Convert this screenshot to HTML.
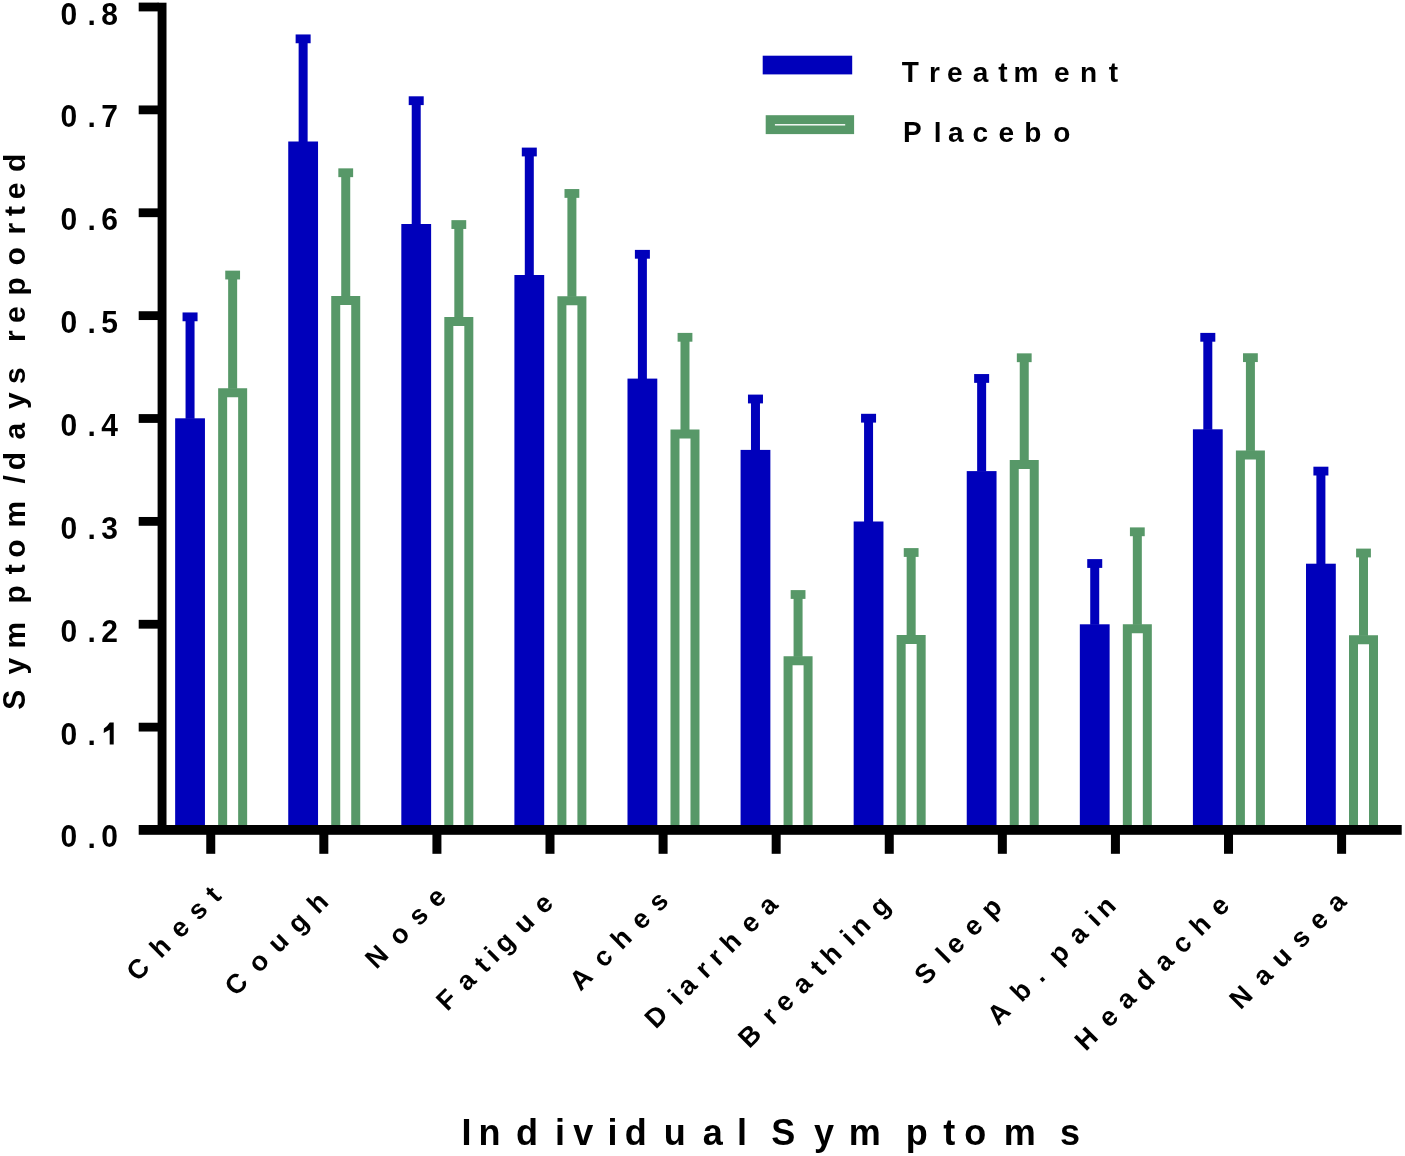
<!DOCTYPE html>
<html><head><meta charset="utf-8"><style>
html,body{margin:0;padding:0;background:#fff;}
body{width:1405px;height:1156px;overflow:hidden;position:relative;}
svg{position:absolute;left:0;top:0;will-change:transform;}
text{font-family:"Liberation Sans",sans-serif;font-weight:bold;fill:#000;}
</style></head><body>
<svg width="1405" height="1156" viewBox="0 0 1405 1156">
<rect x="175.15" y="418.30" width="29.8" height="406.70" fill="#0000BB"/>
<rect x="185.55" y="316.85" width="9" height="101.95" fill="#0000BB"/>
<rect x="182.55" y="312.45" width="15" height="8.8" fill="#0000BB"/>
<path d="M218.15 825V388.30H247.15V825h-9V397.30H227.15V825Z" fill="#579868"/>
<rect x="228.15" y="275.05" width="9" height="113.75" fill="#579868"/>
<rect x="225.25" y="270.65" width="14.8" height="8.8" fill="#579868"/>
<rect x="206.25" y="830" width="9" height="23.8" fill="#000"/>
<rect x="288.24" y="141.50" width="29.8" height="683.50" fill="#0000BB"/>
<rect x="298.63" y="38.85" width="9" height="103.15" fill="#0000BB"/>
<rect x="295.63" y="34.45" width="15" height="8.8" fill="#0000BB"/>
<path d="M331.23 825V295.90H360.23V825h-9V304.90H340.23V825Z" fill="#579868"/>
<rect x="341.23" y="172.75" width="9" height="123.65" fill="#579868"/>
<rect x="338.33" y="168.35" width="14.8" height="8.8" fill="#579868"/>
<rect x="319.33" y="830" width="9" height="23.8" fill="#000"/>
<rect x="401.32" y="224.00" width="29.8" height="601.00" fill="#0000BB"/>
<rect x="411.72" y="100.70" width="9" height="123.80" fill="#0000BB"/>
<rect x="408.72" y="96.30" width="15" height="8.8" fill="#0000BB"/>
<path d="M444.32 825V317.10H473.32V825h-9V326.10H453.32V825Z" fill="#579868"/>
<rect x="454.32" y="224.55" width="9" height="93.05" fill="#579868"/>
<rect x="451.42" y="220.15" width="14.8" height="8.8" fill="#579868"/>
<rect x="432.42" y="830" width="9" height="23.8" fill="#000"/>
<rect x="514.40" y="275.00" width="29.8" height="550.00" fill="#0000BB"/>
<rect x="524.80" y="152.00" width="9" height="123.50" fill="#0000BB"/>
<rect x="521.80" y="147.60" width="15" height="8.8" fill="#0000BB"/>
<path d="M557.40 825V296.30H586.40V825h-9V305.30H566.40V825Z" fill="#579868"/>
<rect x="567.40" y="193.45" width="9" height="103.35" fill="#579868"/>
<rect x="564.50" y="189.05" width="14.8" height="8.8" fill="#579868"/>
<rect x="545.50" y="830" width="9" height="23.8" fill="#000"/>
<rect x="627.49" y="378.60" width="29.8" height="446.40" fill="#0000BB"/>
<rect x="637.89" y="254.30" width="9" height="124.80" fill="#0000BB"/>
<rect x="634.89" y="249.90" width="15" height="8.8" fill="#0000BB"/>
<path d="M670.49 825V429.60H699.49V825h-9V438.60H679.49V825Z" fill="#579868"/>
<rect x="680.49" y="337.30" width="9" height="92.80" fill="#579868"/>
<rect x="677.59" y="332.90" width="14.8" height="8.8" fill="#579868"/>
<rect x="658.59" y="830" width="9" height="23.8" fill="#000"/>
<rect x="740.57" y="449.90" width="29.8" height="375.10" fill="#0000BB"/>
<rect x="750.97" y="399.00" width="9" height="51.40" fill="#0000BB"/>
<rect x="747.97" y="394.60" width="15" height="8.8" fill="#0000BB"/>
<path d="M783.57 825V656.30H812.57V825h-9V665.30H792.57V825Z" fill="#579868"/>
<rect x="793.57" y="594.50" width="9" height="62.30" fill="#579868"/>
<rect x="790.67" y="590.10" width="14.8" height="8.8" fill="#579868"/>
<rect x="771.67" y="830" width="9" height="23.8" fill="#000"/>
<rect x="853.66" y="521.50" width="29.8" height="303.50" fill="#0000BB"/>
<rect x="864.06" y="418.20" width="9" height="103.80" fill="#0000BB"/>
<rect x="861.06" y="413.80" width="15" height="8.8" fill="#0000BB"/>
<path d="M896.66 825V635.10H925.66V825h-9V644.10H905.66V825Z" fill="#579868"/>
<rect x="906.66" y="552.50" width="9" height="83.10" fill="#579868"/>
<rect x="903.76" y="548.10" width="14.8" height="8.8" fill="#579868"/>
<rect x="884.76" y="830" width="9" height="23.8" fill="#000"/>
<rect x="966.74" y="471.10" width="29.8" height="353.90" fill="#0000BB"/>
<rect x="977.14" y="378.45" width="9" height="93.15" fill="#0000BB"/>
<rect x="974.14" y="374.05" width="15" height="8.8" fill="#0000BB"/>
<path d="M1009.74 825V459.90H1038.74V825h-9V468.90H1018.74V825Z" fill="#579868"/>
<rect x="1019.74" y="357.75" width="9" height="102.65" fill="#579868"/>
<rect x="1016.84" y="353.35" width="14.8" height="8.8" fill="#579868"/>
<rect x="997.84" y="830" width="9" height="23.8" fill="#000"/>
<rect x="1079.83" y="624.30" width="29.8" height="200.70" fill="#0000BB"/>
<rect x="1090.23" y="563.50" width="9" height="61.30" fill="#0000BB"/>
<rect x="1087.23" y="559.10" width="15" height="8.8" fill="#0000BB"/>
<path d="M1122.83 825V624.30H1151.83V825h-9V633.30H1131.83V825Z" fill="#579868"/>
<rect x="1132.83" y="531.80" width="9" height="93.00" fill="#579868"/>
<rect x="1129.93" y="527.40" width="14.8" height="8.8" fill="#579868"/>
<rect x="1110.93" y="830" width="9" height="23.8" fill="#000"/>
<rect x="1192.91" y="429.30" width="29.8" height="395.70" fill="#0000BB"/>
<rect x="1203.31" y="337.30" width="9" height="92.50" fill="#0000BB"/>
<rect x="1200.31" y="332.90" width="15" height="8.8" fill="#0000BB"/>
<path d="M1235.91 825V450.40H1264.91V825h-9V459.40H1244.91V825Z" fill="#579868"/>
<rect x="1245.91" y="357.65" width="9" height="93.25" fill="#579868"/>
<rect x="1243.01" y="353.25" width="14.8" height="8.8" fill="#579868"/>
<rect x="1224.01" y="830" width="9" height="23.8" fill="#000"/>
<rect x="1306.00" y="563.70" width="29.8" height="261.30" fill="#0000BB"/>
<rect x="1316.40" y="471.10" width="9" height="93.10" fill="#0000BB"/>
<rect x="1313.40" y="466.70" width="15" height="8.8" fill="#0000BB"/>
<path d="M1349.00 825V635.30H1378.00V825h-9V644.30H1358.00V825Z" fill="#579868"/>
<rect x="1359.00" y="553.00" width="9" height="82.80" fill="#579868"/>
<rect x="1356.10" y="548.60" width="14.8" height="8.8" fill="#579868"/>
<rect x="1337.10" y="830" width="9" height="23.8" fill="#000"/>
<rect x="157.6" y="2.7" width="8.9" height="830" fill="#000"/>
<rect x="138.7" y="825" width="1263" height="9.8" fill="#000"/>
<rect x="138.7" y="722.73" width="20" height="8.8" fill="#000"/>
<rect x="138.7" y="619.85" width="20" height="8.8" fill="#000"/>
<rect x="138.7" y="516.98" width="20" height="8.8" fill="#000"/>
<rect x="138.7" y="414.10" width="20" height="8.8" fill="#000"/>
<rect x="138.7" y="311.23" width="20" height="8.8" fill="#000"/>
<rect x="138.7" y="208.35" width="20" height="8.8" fill="#000"/>
<rect x="138.7" y="105.47" width="20" height="8.8" fill="#000"/>
<rect x="138.7" y="2.60" width="20" height="8.8" fill="#000"/>
<rect x="762.7" y="55.7" width="89.5" height="18.7" fill="#0000BB"/>
<rect x="765.7" y="115.2" width="88.4" height="18.9" fill="#579868"/>
<rect x="774.9" y="124.1" width="70.3" height="1.4" fill="#fff"/>
<text x="87.50" y="847.50" font-size="30">.</text>
<text x="60.60 101.30" y="847.50" font-size="30" transform="translate(0 847.50) scale(1 1.05) translate(0 -847.50)">00</text>
<text x="87.50" y="744.62" font-size="30">.</text>
<text x="60.60" y="744.62" font-size="30" transform="translate(0 744.62) scale(1 1.05) translate(0 -744.62)">0</text>
<path d="M109.7 722.62H113.7V744.62H109.7V729.83L103.7 732.92L103.9 728.42Q107.6 726.42 109.7 722.62Z" fill="#000"/>
<text x="87.50" y="641.75" font-size="30">.</text>
<text x="60.60 101.30" y="641.75" font-size="30" transform="translate(0 641.75) scale(1 1.05) translate(0 -641.75)">02</text>
<text x="87.50" y="538.88" font-size="30">.</text>
<text x="60.60 101.30" y="538.88" font-size="30" transform="translate(0 538.88) scale(1 1.05) translate(0 -538.88)">03</text>
<text x="87.50" y="436.00" font-size="30">.</text>
<text x="60.60 101.30" y="436.00" font-size="30" transform="translate(0 436.00) scale(1 1.05) translate(0 -436.00)">04</text>
<text x="87.50" y="333.12" font-size="30">.</text>
<text x="60.60 101.30" y="333.12" font-size="30" transform="translate(0 333.12) scale(1 1.05) translate(0 -333.12)">05</text>
<text x="87.50" y="230.25" font-size="30">.</text>
<text x="60.60 101.30" y="230.25" font-size="30" transform="translate(0 230.25) scale(1 1.05) translate(0 -230.25)">06</text>
<text x="87.50" y="127.38" font-size="30">.</text>
<text x="60.60 101.30" y="127.38" font-size="30" transform="translate(0 127.38) scale(1 1.05) translate(0 -127.38)">07</text>
<text x="87.50" y="24.50" font-size="30">.</text>
<text x="60.60 101.30" y="24.50" font-size="30" transform="translate(0 24.50) scale(1 1.05) translate(0 -24.50)">08</text>
<text x="-674.43 -648.48 -603.48 -574.20 -557.77 -527.48 -483.50 -470.23 -439.58 -409.03 -383.95 -341.98 -322.97 -295.48 -265.47 -234.48 -215.97 -199.17 -172.03" y="25.00" font-size="30" transform="rotate(-90)">ymptom/daysreported</text>
<text x="-709.66" y="25.00" font-size="30" transform="rotate(-90) translate(0 25.00) scale(1 1.06) translate(0 -25.00)">S</text>
<text x="929.05 946.91 972.78 998.16 1013.45 1054.11 1080.05 1108.86" y="82.40" font-size="28">reatment</text>
<text x="901.69" y="82.40" font-size="28" transform="translate(0 82.40) scale(1 1.045) translate(0 -82.40)">T</text>
<text x="933.84 947.88 972.61 998.61 1024.15 1053.21" y="142.20" font-size="28">lacebo</text>
<text x="903.03" y="142.20" font-size="28" transform="translate(0 142.20) scale(1 1.045) translate(0 -142.20)">P</text>
<text x="461.39 478.43 516.12 554.89 573.26 607.59 624.82 663.77 702.75 737.09 771.36 814.12 848.63 905.63 943.26 964.29 1003.73 1060.03" y="1144.70" font-size="36">IndividualSymptoms</text>
<text x="-597.57 -564.62 -536.75 -511.37 -486.00" y="792.00" font-size="27.0" transform="rotate(-45)">Chest</text>
<text x="-538.53 -505.58 -477.70 -449.83 -421.96" y="871.96" font-size="27.0" transform="rotate(-45)">Cough</text>
<text x="-419.95 -387.00 -359.13 -333.75" y="951.93" font-size="27.0" transform="rotate(-45)">Nose</text>
<text x="-399.26 -371.38 -346.01 -330.81 -318.13 -290.26 -262.39" y="1031.89" font-size="27.0" transform="rotate(-45)">Fatigue</text>
<text x="-291.00 -258.05 -232.67 -204.80 -179.42" y="1111.85" font-size="27.0" transform="rotate(-45)">Aches</text>
<text x="-264.33 -231.38 -218.70 -193.33 -175.57 -157.81 -129.94 -104.56" y="1191.82" font-size="27.0" transform="rotate(-45)">Diarrhea</text>
<text x="-212.18 -179.22 -161.47 -136.09 -110.71 -95.52 -67.64 -54.97 -27.09" y="1271.78" font-size="27.0" transform="rotate(-45)">Breathing</text>
<text x="-43.05 -12.61 0.07 25.44 50.82" y="1351.74" font-size="27.0" transform="rotate(-45)">Sleep</text>
<text x="-19.92 13.03 40.90 66.26 94.13 119.51 132.18" y="1431.71" font-size="27.0" transform="rotate(-45)">Ab.pain</text>
<text x="23.98 56.94 82.31 107.69 135.56 160.94 186.32 214.19" y="1511.67" font-size="27.0" transform="rotate(-45)">Headache</text>
<text x="162.55 195.50 220.88 248.75 274.13 299.50" y="1591.63" font-size="27.0" transform="rotate(-45)">Nausea</text>
</svg>
</body></html>
